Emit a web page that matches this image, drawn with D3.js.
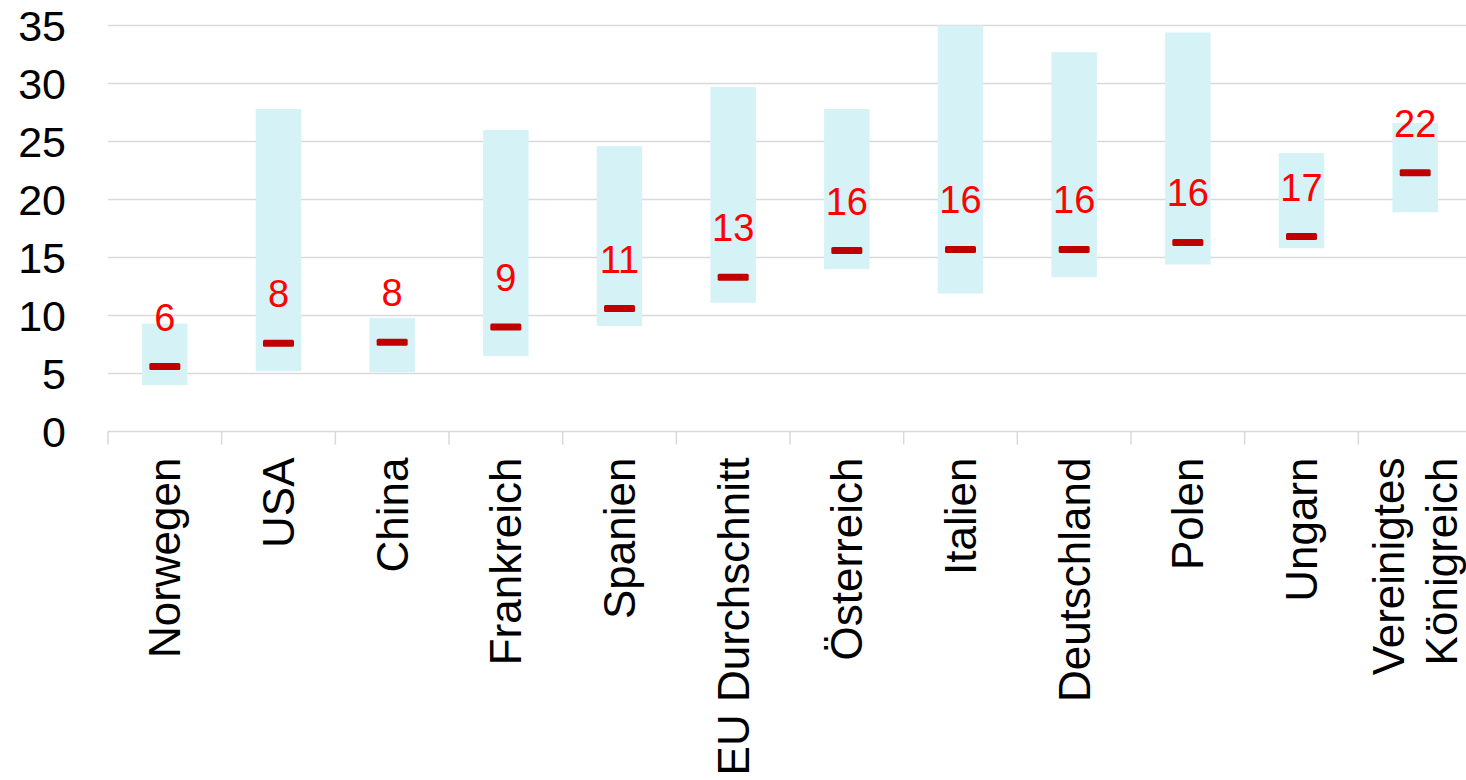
<!DOCTYPE html>
<html>
<head>
<meta charset="utf-8">
<script src="https://cdn.jsdelivr.net/npm/d3@7"></script>
<style>
  body { margin: 0; background: #fff; }
  svg { display: block; font-family: "Liberation Sans", Arial, Helvetica, sans-serif; }
</style>
</head>
<body>
<svg id="chart" width="1466" height="780"></svg>
<script>
var categories = ["Norwegen", "USA", "China", "Frankreich", "Spanien", "EU Durchschnitt",
  "Österreich", "Italien", "Deutschland", "Polen", "Ungarn", "Vereinigtes Königreich"];
var lows = [4.0, 5.2, 5.1, 6.5, 9.1, 11.1, 14.0, 11.9, 13.3, 14.4, 15.8, 18.9];
var highs = [9.3, 27.8, 9.8, 26.0, 24.6, 29.7, 27.8, 35.0, 32.7, 34.4, 24.0, 26.6];
var medians = [5.6, 7.6, 7.7, 9.0, 10.6, 13.3, 15.6, 15.7, 15.7, 16.3, 16.8, 22.3];
var labels = [6, 8, 8, 9, 11, 13, 16, 16, 16, 16, 17, 22];
var yTicks = [0, 5, 10, 15, 20, 25, 30, 35];

var svg = d3.select("#chart");
var plotLeft = 108, plotRight = 1472, plotTop = 25.5, plotBottom = 431.5;

var x = d3.scaleBand().domain(categories).range([plotLeft, plotRight]);
var y = d3.scaleLinear().domain([0, 35]).range([plotBottom, plotTop]);

// gridlines
svg.append("g")
  .selectAll("line")
  .data(yTicks)
  .enter()
  .append("line")
  .attr("x1", plotLeft)
  .attr("x2", 1466)
  .attr("y1", d => y(d))
  .attr("y2", d => y(d))
  .attr("stroke", "#d9d9d9")
  .attr("stroke-width", 1.5);

// tick marks between the categories
svg.append("g")
  .selectAll("line")
  .data(categories)
  .enter()
  .append("line")
  .attr("x1", d => x(d))
  .attr("x2", d => x(d))
  .attr("y1", plotBottom)
  .attr("y2", plotBottom + 13)
  .attr("stroke", "#d9d9d9")
  .attr("stroke-width", 1.5);

// y axis labels
var yAxis = svg.append("g")
  .attr("transform", `translate(${plotLeft},0)`)
  .call(d3.axisLeft(y).tickValues(yTicks).tickSize(0).tickPadding(42));
yAxis.select(".domain").remove();
yAxis.selectAll("text")
  .attr("font-size", 43)
  .attr("font-family", "Liberation Sans, Arial, sans-serif")
  .attr("fill", "#000")
  .attr("dy", "0.35em");

// x axis labels, rotated
var xAxis = svg.append("g")
  .attr("transform", `translate(0,${plotBottom})`)
  .call(d3.axisBottom(x).tickSize(0));
xAxis.select(".domain").remove();
xAxis.selectAll("text")
  .attr("font-size", 44)
  .attr("font-family", "Liberation Sans, Arial, sans-serif")
  .attr("fill", "#000")
  .attr("transform", "rotate(-90)")
  .attr("text-anchor", "end")
  .attr("x", -26)
  .attr("y", 0)
  .attr("dy", "0.35em")
  .each(function(d) {
    if (d.length > 16) {
      let words = d.split(" ");
      let t = d3.select(this).text("").attr("dy", null);
      t.append("tspan").attr("x", -26).attr("dy", "-0.25em").text(words[0]);
      t.append("tspan").attr("x", -26).attr("dy", "1.2em").text(words.slice(1).join(" "));
    }
  });

var bw = x.bandwidth();

// range bars
svg.append("g")
  .selectAll("rect")
  .data(categories)
  .enter()
  .append("rect")
  .attr("x", d => x(d) + bw * 0.3)
  .attr("width", bw * 0.4)
  .attr("y", (d, i) => y(highs[i]))
  .attr("height", (d, i) => y(lows[i]) - y(highs[i]))
  .attr("fill", "#d5f2f6");

// median markers
svg.append("g")
  .selectAll("rect")
  .data(categories)
  .enter()
  .append("rect")
  .attr("x", d => x(d) + bw / 2 - 15.5)
  .attr("width", 31)
  .attr("y", (d, i) => y(medians[i]) - 3.5)
  .attr("height", 7)
  .attr("rx", 1.5)
  .attr("fill", "#c00000");

// value labels
svg.append("g")
  .selectAll("text")
  .data(categories)
  .enter()
  .append("text")
  .attr("x", d => x(d) + bw / 2)
  .attr("y", (d, i) => y(medians[i]) - 36)
  .attr("text-anchor", "middle")
  .attr("font-size", 38)
  .attr("fill", "#ff0000")
  .text((d, i) => labels[i]);
</script>
</body>
</html>
